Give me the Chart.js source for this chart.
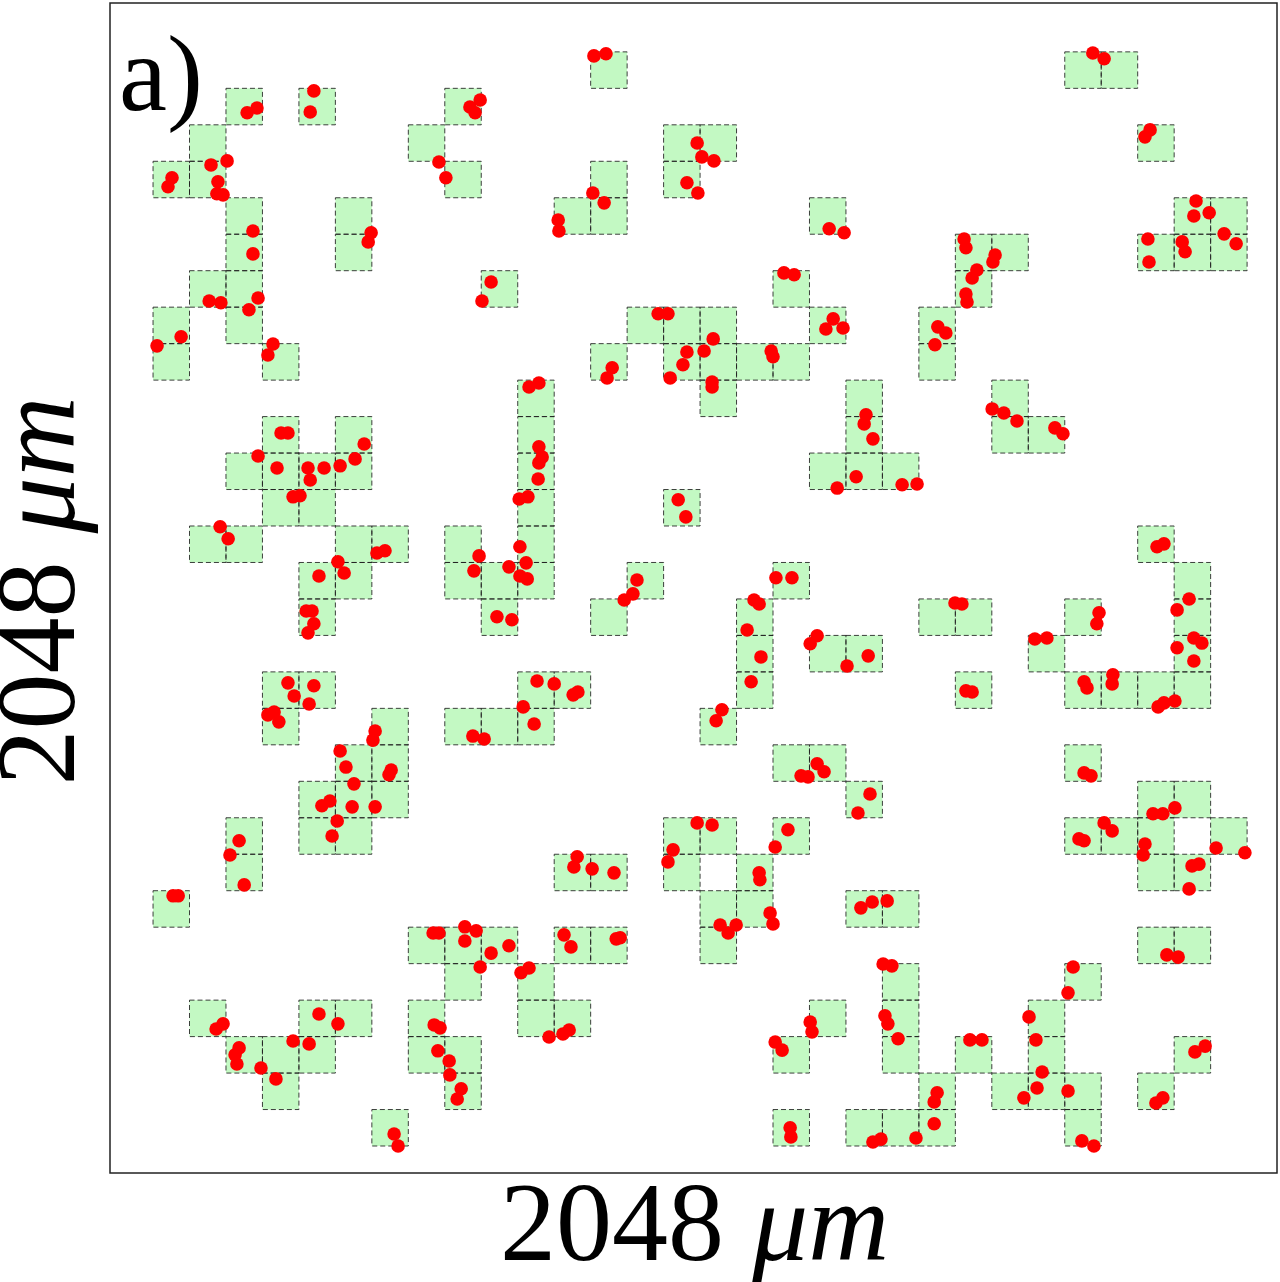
<!DOCTYPE html>
<html>
<head>
<meta charset="utf-8">
<title>Occupied cells and particles</title>
<script src="https://cdn.jsdelivr.net/npm/chart.js@4.4.1/dist/chart.umd.min.js"></script>
<style>
  html, body { margin: 0; padding: 0; background: #fff; overflow: hidden; }
  #wrap { width: 1280px; height: 1282px; }
  #gridChart { display: block; }
</style>
</head>
<body>
<div id="wrap"><canvas id="gridChart" width="1280" height="1282"></canvas></div>
<script>
// axis ranges, in cell units (one cell = 64 um, frame = 2048 um = 32 cells)
const xRange = [-1.18, 30.82];
const yRange = [-1.34, 30.74];

const xLabel = ['2048 ', '\u03bcm'];
const yLabel = ['2048 ', '\u03bcm'];
const panelLabel = 'a)';

// occupied cells: [column, row], row 0 at the top
const cells = [
  [12,0],[25,0],[26,0],
  [2,1],[4,1],[8,1],
  [1,2],[7,2],[14,2],[15,2],[27,2],
  [0,3],[1,3],[8,3],[12,3],[14,3],
  [2,4],[5,4],[11,4],[12,4],[18,4],[28,4],[29,4],
  [2,5],[5,5],[22,5],[23,5],[27,5],[28,5],[29,5],
  [1,6],[2,6],[9,6],[17,6],[22,6],
  [0,7],[2,7],[13,7],[14,7],[15,7],[18,7],[21,7],
  [0,8],[3,8],[12,8],[14,8],[15,8],[16,8],[17,8],[21,8],
  [10,9],[15,9],[19,9],[23,9],
  [3,10],[5,10],[10,10],[19,10],[23,10],[24,10],
  [2,11],[3,11],[4,11],[5,11],[10,11],[18,11],[19,11],[20,11],
  [3,12],[4,12],[10,12],[14,12],
  [1,13],[2,13],[5,13],[6,13],[8,13],[10,13],[27,13],
  [4,14],[5,14],[8,14],[9,14],[10,14],[13,14],[17,14],[28,14],
  [4,15],[9,15],[12,15],[16,15],[21,15],[22,15],[25,15],[28,15],
  [16,16],[18,16],[19,16],[24,16],[28,16],
  [3,17],[4,17],[10,17],[11,17],[16,17],[22,17],[25,17],[26,17],[27,17],[28,17],
  [3,18],[6,18],[8,18],[9,18],[10,18],[15,18],
  [5,19],[6,19],[17,19],[18,19],[25,19],
  [4,20],[5,20],[6,20],[19,20],[27,20],[28,20],
  [2,21],[4,21],[5,21],[14,21],[15,21],[17,21],[25,21],[26,21],[27,21],[29,21],
  [2,22],[11,22],[12,22],[14,22],[16,22],[27,22],[28,22],
  [0,23],[15,23],[16,23],[19,23],[20,23],
  [7,24],[8,24],[9,24],[11,24],[12,24],[15,24],[27,24],[28,24],
  [8,25],[10,25],[20,25],[25,25],
  [1,26],[4,26],[5,26],[7,26],[10,26],[11,26],[18,26],[20,26],[24,26],
  [2,27],[3,27],[4,27],[7,27],[8,27],[17,27],[20,27],[22,27],[24,27],[28,27],
  [3,28],[8,28],[21,28],[23,28],[24,28],[25,28],[27,28],
  [6,29],[17,29],[19,29],[20,29],[21,29],[25,29]
];

// particle positions [x, y] in cell units
const dots = [
  [4.41,1.07],[4.31,1.65],[2.85,1.54],[2.58,1.67],[8.97,1.32],[8.69,1.51],[8.83,1.67],
  [2.03,2.99],[1.59,3.10],[1.78,3.56],[1.75,3.89],[1.92,3.92],[0.52,3.45],[0.41,3.70],
  [7.84,3.02],[8.03,3.45],[2.74,4.91],[2.74,5.54],[5.98,4.96],[5.90,5.21],[2.88,6.75],
  [2.63,7.07],[1.54,6.83],[1.86,6.88],[0.77,7.81],[0.11,8.06],[3.29,8.01],[3.15,8.31],
  [9.27,6.31],[9.02,6.83],
  [12.09,0.11],[12.42,0.05],[14.92,2.50],[15.05,2.88],[15.38,2.99],[14.64,3.59],[14.94,3.87],
  [12.06,3.87],[12.37,4.14],[11.11,4.61],[11.13,4.91],[18.54,4.85],[18.95,4.96],[17.30,6.06],
  [17.58,6.11],[13.85,7.18],[14.12,7.18],[18.65,7.32],[18.45,7.60],[18.92,7.57],[15.36,7.87],
  [14.64,8.23],[15.11,8.20],[14.53,8.58],[14.18,8.94],[15.33,9.05],[15.33,9.19],[16.95,8.20],
  [17.00,8.36],[12.59,8.66],[12.45,8.94],[10.31,9.19],[10.58,9.08],
  [25.77,0.03],[26.08,0.19],[27.34,2.14],[27.20,2.33],[28.60,4.09],[28.54,4.50],[28.96,4.41],
  [29.37,4.99],[29.70,5.26],[27.28,5.13],[27.31,5.76],[28.22,5.21],[28.30,5.48],[22.24,5.13],
  [22.29,5.37],[23.09,5.57],[23.03,5.76],[22.59,5.98],[22.46,6.20],[22.29,6.64],[22.32,6.86],
  [21.52,7.54],[21.74,7.71],[21.44,8.03],
  [3.51,10.45],[3.70,10.45],[2.88,11.08],[3.40,11.41],[4.25,11.41],[4.31,11.74],[4.69,11.41],
  [5.13,11.35],[5.54,11.16],[5.79,10.75],[3.84,12.20],[4.03,12.17],[1.84,13.02],[2.06,13.35],
  [6.14,13.74],[6.36,13.68],[5.07,13.98],[5.24,14.29],[4.55,14.37],[4.20,15.33],[4.36,15.33],
  [4.41,15.68],[4.25,15.93],[8.94,13.82],[8.80,14.23],[9.43,15.49],[3.70,17.30],[4.41,17.38],
  [3.87,17.66],[4.28,17.88],[3.15,18.18],[3.32,18.10],[3.45,18.37],[6.09,18.62],[6.03,18.87],
  [5.13,19.17],[5.29,19.61],[6.53,19.69],[6.47,19.82],[5.51,20.07],[8.77,18.76],[9.08,18.84],
  [19.55,9.95],[19.50,10.20],[19.74,10.61],[19.28,11.65],[18.76,11.96],[10.58,10.83],[10.67,11.11],
  [10.58,11.27],[10.56,11.71],[10.04,12.26],[10.28,12.20],[10.06,13.57],[10.23,14.01],[9.76,14.12],
  [10.06,14.37],[10.26,14.45],[9.84,15.57],[14.40,12.28],[14.61,12.75],[13.27,14.48],[13.16,14.86],
  [12.92,15.03],[17.08,14.42],[17.52,14.42],[16.48,15.03],[16.62,15.14],[16.29,15.85],[16.67,16.59],
  [16.40,17.27],[18.21,16.01],[18.02,16.23],[19.03,16.84],[19.61,16.56],[10.53,17.25],[11.00,17.33],
  [11.52,17.63],[11.65,17.55],[10.15,17.96],[10.45,18.43],[15.60,18.04],[15.44,18.34],[18.21,19.52],
  [18.40,19.74],[17.77,19.85],[17.96,19.88],[19.66,20.35],
  [23.01,9.79],[23.33,9.90],[23.69,10.12],[24.73,10.31],[24.95,10.47],[20.54,11.87],[20.95,11.85],
  [27.53,13.57],[27.72,13.49],[21.99,15.11],[22.18,15.14],[25.94,15.38],[25.88,15.68],[28.41,15.00],
  [28.08,15.30],[28.54,16.07],[28.76,16.21],[28.08,16.34],[28.54,16.70],[24.18,16.10],[24.51,16.07],
  [22.29,17.52],[22.46,17.55],[25.53,17.27],[25.61,17.44],[26.32,17.08],[26.30,17.33],[27.56,17.96],
  [27.72,17.85],[28.02,17.80],[25.53,19.77],[25.72,19.85],
  [4.63,20.67],[4.85,20.54],[5.46,20.70],[6.09,20.70],[5.05,21.09],[4.91,21.50],[2.36,21.63],
  [2.11,22.02],[2.50,22.84],[0.55,23.14],[0.69,23.14],[7.68,24.16],[7.84,24.16],[8.55,23.99],
  [8.86,24.10],[8.55,24.38],[9.27,24.71],[8.97,25.09],[9.76,24.51],[1.73,26.79],[1.92,26.65],
  [2.36,27.31],[2.25,27.50],[2.30,27.75],[2.96,27.86],[3.37,28.16],[3.84,27.12],[4.28,27.20],
  [4.55,26.38],[5.07,26.65],[7.71,26.68],[7.87,26.76],[7.81,27.39],[8.12,27.67],[8.14,28.05],
  [8.45,28.43],[8.34,28.71],[6.61,29.67],[6.72,30.00],
  [19.33,20.87],[14.92,21.14],[15.33,21.20],[14.26,21.88],[14.12,22.21],[17.41,21.33],[17.06,21.80],
  [16.62,22.51],[16.64,22.70],[15.55,23.94],[15.77,24.16],[15.99,23.94],[16.92,23.61],[17.00,23.91],
  [11.63,22.07],[11.54,22.35],[12.04,22.40],[12.64,22.51],[19.41,23.47],[19.72,23.31],[20.13,23.28],
  [11.27,24.21],[11.46,24.54],[12.70,24.32],[12.81,24.29],[10.09,25.25],[10.31,25.12],[10.86,27.01],
  [11.24,26.93],[11.41,26.82],[20.02,25.01],[20.26,25.06],[18.02,26.60],[18.07,26.87],[17.06,27.15],
  [17.25,27.37],[20.07,26.43],[20.15,26.65],[17.47,29.50],[17.49,29.75],[19.74,29.89],[19.96,29.81],
  [27.42,20.89],[27.69,20.89],[28.02,20.73],[26.08,21.14],[26.30,21.36],[25.39,21.58],[25.53,21.63],
  [27.20,21.72],[27.15,22.02],[29.15,21.83],[29.94,21.96],[28.49,22.32],[28.68,22.27],[28.41,22.95],
  [27.80,24.76],[28.11,24.82],[25.23,25.09],[25.09,25.80],[20.43,27.06],[24.02,26.46],[24.21,27.09],
  [22.40,27.09],[22.73,27.09],[24.38,27.97],[24.24,28.41],[23.88,28.68],[25.09,28.49],[21.50,28.54],
  [21.42,28.79],[21.42,29.39],[20.92,29.78],[25.47,29.86],[25.80,30.00],[28.57,27.42],[28.85,27.26],
  [27.50,28.82],[27.69,28.68]
];

const serif = '"Liberation Serif", "Times New Roman", serif';

// green cells with dashed outlines, drawn under the points
const cellPlugin = {
  id: 'cells',
  beforeDatasetsDraw(chart) {
    const { ctx, scales: { x, y } } = chart;
    ctx.save();
    ctx.fillStyle = '#c3f9c3';
    cells.forEach(([c, r]) => {
      const x0 = x.getPixelForValue(c), x1 = x.getPixelForValue(c + 1);
      const y0 = y.getPixelForValue(r), y1 = y.getPixelForValue(r + 1);
      ctx.fillRect(x0, y0, x1 - x0, y1 - y0);
    });
    ctx.setLineDash([5, 3]);
    ctx.lineWidth = 1;
    ctx.strokeStyle = 'rgba(30,30,30,0.85)';
    cells.forEach(([c, r]) => {
      const x0 = x.getPixelForValue(c), x1 = x.getPixelForValue(c + 1);
      const y0 = y.getPixelForValue(r), y1 = y.getPixelForValue(r + 1);
      ctx.strokeRect(x0, y0, x1 - x0, y1 - y0);
    });
    ctx.restore();
  }
};

function drawLabel(ctx, parts) {
  ctx.font = '112px ' + serif;
  const w0 = ctx.measureText(parts[0]).width;
  ctx.font = 'italic 112px ' + serif;
  const w1 = ctx.measureText(parts[1]).width;
  const start = -(w0 + w1) / 2;
  ctx.textAlign = 'left';
  ctx.textBaseline = 'alphabetic';
  ctx.font = '112px ' + serif;
  ctx.fillText(parts[0], start, 0);
  ctx.font = 'italic 112px ' + serif;
  ctx.fillText(parts[1], start + w0, 0);
}

// frame, panel letter and axis titles
const framePlugin = {
  id: 'frame',
  afterDraw(chart) {
    const { ctx, chartArea: a } = chart;
    ctx.save();
    ctx.lineWidth = 1.5;
    ctx.strokeStyle = '#222';
    ctx.strokeRect(a.left, a.top, a.right - a.left, a.bottom - a.top);

    ctx.fillStyle = '#000';
    ctx.font = '108px ' + serif;
    ctx.textAlign = 'left';
    ctx.textBaseline = 'alphabetic';
    ctx.fillText(panelLabel, a.left + 9, a.top + 107);

    ctx.save();
    ctx.translate((a.left + a.right) / 2 + 1, 1260);
    drawLabel(ctx, xLabel);
    ctx.restore();

    ctx.save();
    ctx.translate(74, (a.top + a.bottom) / 2 + 3);
    ctx.rotate(-Math.PI / 2);
    drawLabel(ctx, yLabel);
    ctx.restore();
    ctx.restore();
  }
};

new Chart(document.getElementById('gridChart').getContext('2d'), {
  type: 'scatter',
  data: {
    datasets: [{
      label: 'particles',
      data: dots.map(([px, py]) => ({ x: px, y: py })),
      backgroundColor: '#ff0000',
      borderWidth: 0,
      pointRadius: 6.8,
      pointHoverRadius: 6.8
    }]
  },
  options: {
    responsive: false,
    animation: false,
    events: [],
    layout: { autoPadding: false, padding: { left: 110, top: 3, right: 3, bottom: 109 } },
    plugins: { legend: { display: false }, tooltip: { enabled: false } },
    scales: {
      x: { type: 'linear', min: xRange[0], max: xRange[1], display: false },
      y: { type: 'linear', min: yRange[0], max: yRange[1], reverse: true, display: false }
    }
  },
  plugins: [cellPlugin, framePlugin]
});
</script>
</body>
</html>
